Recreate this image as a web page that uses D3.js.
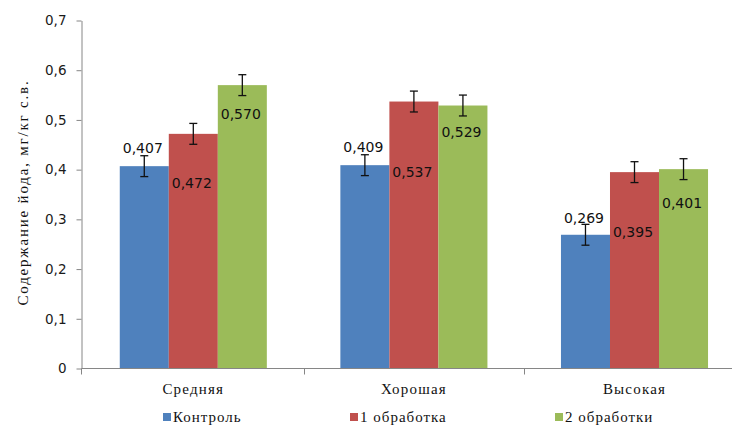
<!DOCTYPE html>
<html>
<head>
<meta charset="utf-8">
<script src="https://cdn.jsdelivr.net/npm/d3@7/dist/d3.min.js"></script>
<style>
  html, body { margin: 0; padding: 0; background: #fff; }
  svg { display: block; }
  .serif { font-family: "Liberation Serif", "Times New Roman", serif; }
  .sans { font-family: "DejaVu Sans", "Liberation Sans", sans-serif; }
</style>
</head>
<body>
<div id="chart"></div>
<script>
// Iodine content by soil fertility level, three treatment variants
const categories = ["Средняя", "Хорошая", "Высокая"];
const seriesNames = ["Контроль", "1 обработка", "2 обработки"];
const control = [0.407, 0.409, 0.269];
const treatment1 = [0.472, 0.537, 0.395];
const treatment2 = [0.570, 0.529, 0.401];
const controlErr = [0.021, 0.021, 0.021];
const treatment1Err = [0.021, 0.021, 0.021];
const treatment2Err = [0.021, 0.021, 0.021];
const yTicks = [0, 0.1, 0.2, 0.3, 0.4, 0.5, 0.6, 0.7];
const yTitle = "Содержание йода, мг/кг с.в.";

const colors = ["#4F81BD", "#C0504D", "#9BBB59"];
// vertical offset of each value label's baseline from its bar top (px)
const labelShift = [
  [-13, -13, -12],
  [54, 75, 65],
  [34, 31, 39]
];

const values = [control, treatment1, treatment2];
const errs = [controlErr, treatment1Err, treatment2Err];

const W = 732, H = 428;
const svg = d3.select("#chart").append("svg")
  .attr("width", W).attr("height", H)
  .style("background", "#fff");

const plotLeft = 81.5, plotBottom = 368.5, plotTop = 20.5;
const bandStart = 83, step = 220.6;

const x = d3.scaleBand().domain(categories)
  .range([bandStart, bandStart + step * categories.length])
  .paddingInner(0).paddingOuter(0);
const xs = d3.scaleBand().domain(d3.range(seriesNames.length))
  .range([0, x.bandwidth()])
  .paddingInner(0).paddingOuter(0.75);
const y = d3.scaleLinear().domain([0, 0.7]).range([plotBottom, plotTop]);

const ru = d3.formatLocale({ decimal: ",", thousands: " ", grouping: [3], currency: ["", ""] });
const fmt1 = ru.format(".1f");
const fmt3 = ru.format(".3f");

// bars
const rows = [];
values.forEach((arr, s) => arr.forEach((v, c) => rows.push({ s, c, v, e: errs[s][c] })));

svg.append("g").selectAll("rect").data(rows).join("rect")
  .attr("x", d => x(categories[d.c]) + xs(d.s))
  .attr("y", d => y(d.v))
  .attr("width", xs.bandwidth())
  .attr("height", d => y(0) - y(d.v))
  .attr("fill", d => colors[d.s]);

// y axis
const yAxis = svg.append("g")
  .attr("transform", `translate(${plotLeft},0)`)
  .call(d3.axisLeft(y).tickValues(yTicks).tickFormat(d => d === 0 ? "0" : fmt1(d))
    .tickSizeInner(5).tickSizeOuter(0).tickPadding(10));
yAxis.select(".domain").attr("stroke", "#868686");
yAxis.selectAll(".tick line").attr("stroke", "#868686");
yAxis.selectAll(".tick text").attr("class", "sans").attr("font-size", 13.5).attr("fill", "#1a1a1a");

// x axis
const xAxis = svg.append("g")
  .attr("transform", `translate(0,${plotBottom})`)
  .call(d3.axisBottom(x).tickSize(0).tickPadding(12));
xAxis.select(".domain").attr("stroke", "#868686").attr("d", `M${plotLeft},0H${W}`);
xAxis.selectAll(".tick text")
  .attr("class", "serif").attr("font-size", 15).attr("letter-spacing", 1.2)
  .attr("fill", "#111").attr("dy", "0.71em").attr("y", 15);
// category boundary ticks
svg.append("g").selectAll("line")
  .data(categories.slice(1).map(c => x(c)).concat([plotLeft - 0.5]))
  .join("line")
  .attr("x1", d => Math.round(d) + 0.5).attr("x2", d => Math.round(d) + 0.5)
  .attr("y1", plotBottom).attr("y2", plotBottom + 6)
  .attr("stroke", "#868686");

// error bars
const eb = svg.append("g").attr("stroke", "#111").attr("stroke-width", 1.3);
rows.forEach(d => {
  const cx = x(categories[d.c]) + xs(d.s) + xs.bandwidth() / 2;
  const y1 = y(d.v + d.e), y2 = y(d.v - d.e);
  eb.append("line").attr("x1", cx).attr("x2", cx).attr("y1", y1).attr("y2", y2);
  eb.append("line").attr("x1", cx - 4).attr("x2", cx + 4).attr("y1", y1).attr("y2", y1);
  eb.append("line").attr("x1", cx - 4).attr("x2", cx + 4).attr("y1", y2).attr("y2", y2);
});

// value labels
svg.append("g").selectAll("text").data(rows).join("text")
  .attr("class", "sans")
  .attr("font-size", 14)
  .attr("fill", "#111")
  .attr("text-anchor", "middle")
  .attr("x", d => x(categories[d.c]) + xs(d.s) + xs.bandwidth() / 2 - 1.5)
  .attr("y", d => y(d.v) + labelShift[d.s][d.c])
  .text(d => fmt3(d.v));

// y axis title
svg.append("text")
  .attr("class", "serif")
  .attr("font-size", 15)
  .attr("letter-spacing", 1.8)
  .attr("fill", "#111")
  .attr("text-anchor", "middle")
  .attr("transform", `translate(28,${(plotTop + plotBottom) / 2 - 2}) rotate(-90)`)
  .text(yTitle);

// legend
const legendX = [163, 350, 555];
const lg = svg.append("g");
seriesNames.forEach((name, i) => {
  lg.append("rect")
    .attr("x", legendX[i]).attr("y", 413)
    .attr("width", 8).attr("height", 8)
    .attr("fill", colors[i]);
  lg.append("text")
    .attr("class", "serif")
    .attr("font-size", 15)
    .attr("letter-spacing", 1.0)
    .attr("fill", "#111")
    .attr("x", legendX[i] + 10).attr("y", 421.5)
    .text(name);
});
</script>
</body>
</html>
